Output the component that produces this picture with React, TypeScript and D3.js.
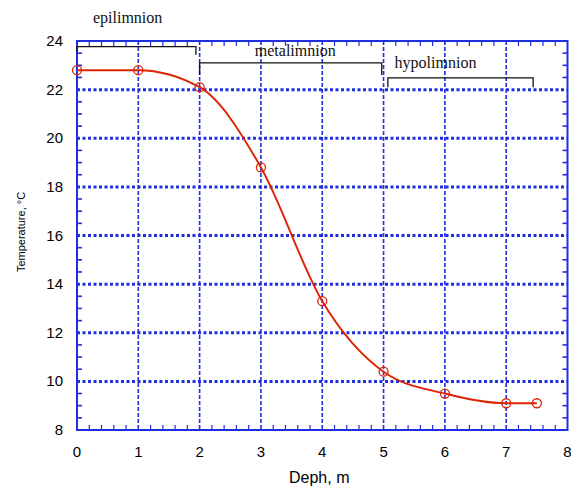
import React from "react";
import * as d3 from "d3";

// Temperature profile by depth
const depths = [0, 1, 2, 3, 4, 5, 6, 7, 7.5];
const temps = [22.8, 22.8, 22.1, 18.8, 13.3, 10.4, 9.5, 9.1, 9.1];

const xTicks = [0, 1, 2, 3, 4, 5, 6, 7, 8];
const yTicks = [8, 10, 12, 14, 16, 18, 20, 22, 24];

// Layer brackets: [x0, x1, yTop, yLeftEnd, yRightEnd]
const layerNames = ["epilimnion", "metalimnion", "hypolimnion"];
const layerX0 = [0, 2.0, 5.07];
const layerX1 = [1.94, 4.97, 7.44];
const layerTop = [23.77, 23.1, 22.48];
const layerLeftEnd = [23.55, 22.6, 22.1];
const layerRightEnd = [23.43, 22.6, 22.1];
// label anchors (data coords)
const labelX = [0.26, 2.9, 5.18];
const labelY = [24.75, 23.4, 22.9];

const W = 571;
const H = 487;
const left = 77;
const right = 567.5;
const top = 41;
const bottom = 430;

const BLUE = "#1f2fe0";
const RED = "#dd2200";

export default function App() {
  const x = d3.scaleLinear().domain([0, 8]).range([left, right]);
  const y = d3.scaleLinear().domain([8, 24]).range([bottom, top]);

  const line = d3
    .line<number>()
    .x((_, i) => x(depths[i]))
    .y((d) => y(d))
    .curve(d3.curveMonotoneX);

  const xMinor = d3.range(0, 8.001, 0.2).filter((v) => Math.abs(v - Math.round(v)) > 1e-6);
  const yMinor = d3.range(8, 24.001, 0.5).filter((v) => Math.abs(v / 2 - Math.round(v / 2)) > 1e-6);

  const sans = "'Liberation Sans', Arial, Helvetica, sans-serif";
  const serif = "'Liberation Serif', 'Times New Roman', serif";

  return (
    <svg width={W} height={H} style={{ position: "absolute", left: 0, top: 0 }}>
      <rect width={W} height={H} fill="#fff" />
      {/* horizontal grid */}
      {yTicks.slice(1, -1).map((t) => (
        <line key={"hg" + t} x1={left} x2={right} y1={y(t)} y2={y(t)} stroke={BLUE} strokeWidth={3} strokeDasharray="3,2.5" />
      ))}
      {/* vertical grid */}
      {xTicks.slice(1, -1).map((t) => (
        <line key={"vg" + t} x1={x(t)} x2={x(t)} y1={top} y2={bottom} stroke={BLUE} strokeWidth={1.6} strokeDasharray="4,2" />
      ))}
      {/* minor ticks */}
      {xMinor.map((t) => (
        <g key={"xm" + t}>
          <line x1={x(t)} x2={x(t)} y1={bottom} y2={bottom - 5} stroke={BLUE} strokeWidth={1.2} />
          <line x1={x(t)} x2={x(t)} y1={top} y2={top + 5} stroke={BLUE} strokeWidth={1.2} />
        </g>
      ))}
      {yMinor.map((t) => (
        <g key={"ym" + t}>
          <line x1={left} x2={left + 5} y1={y(t)} y2={y(t)} stroke={BLUE} strokeWidth={1.6} />
          <line x1={right} x2={right - 5} y1={y(t)} y2={y(t)} stroke={BLUE} strokeWidth={1.6} />
        </g>
      ))}
      {/* frame */}
      <rect x={left} y={top} width={right - left} height={bottom - top} fill="none" stroke={BLUE} strokeWidth={2} />

      {/* layer brackets */}
      {layerNames.map((n, i) => (
        <g key={n}>
          <path
            d={`M${x(layerX0[i])},${y(layerLeftEnd[i])}V${y(layerTop[i])}H${x(layerX1[i])}V${y(layerRightEnd[i])}`}
            fill="none"
            stroke="#111"
            strokeWidth={1.3}
          />
          <text x={x(labelX[i])} y={y(labelY[i])} fontFamily={serif} fontSize={16} fill="#111">
            {n}
          </text>
        </g>
      ))}

      {/* profile */}
      <path d={line(temps) ?? ""} fill="none" stroke={RED} strokeWidth={1.9} />
      {temps.map((t, i) => (
        <circle key={"pt" + i} cx={x(depths[i])} cy={y(t)} r={4.5} fill="none" stroke={RED} strokeWidth={1.3} />
      ))}

      {/* tick labels */}
      {xTicks.map((t) => (
        <text key={"xl" + t} x={x(t)} y={457} textAnchor="middle" fontFamily={sans} fontSize={15} fill="#000">
          {t}
        </text>
      ))}
      {yTicks.map((t) => (
        <text key={"yl" + t} x={63} y={y(t) + 5} textAnchor="end" fontFamily={sans} fontSize={15} fill="#000">
          {t}
        </text>
      ))}

      {/* axis titles */}
      <text x={(left + right) / 2 - 3} y={483} textAnchor="middle" fontFamily={sans} fontSize={16} fill="#000">
        Deph, m
      </text>
      <text
        transform={`translate(25,232) rotate(-90)`}
        textAnchor="middle"
        fontFamily={sans}
        fontSize={11}
        fill="#000"
      >
        Temperature, °C
      </text>
    </svg>
  );
}
